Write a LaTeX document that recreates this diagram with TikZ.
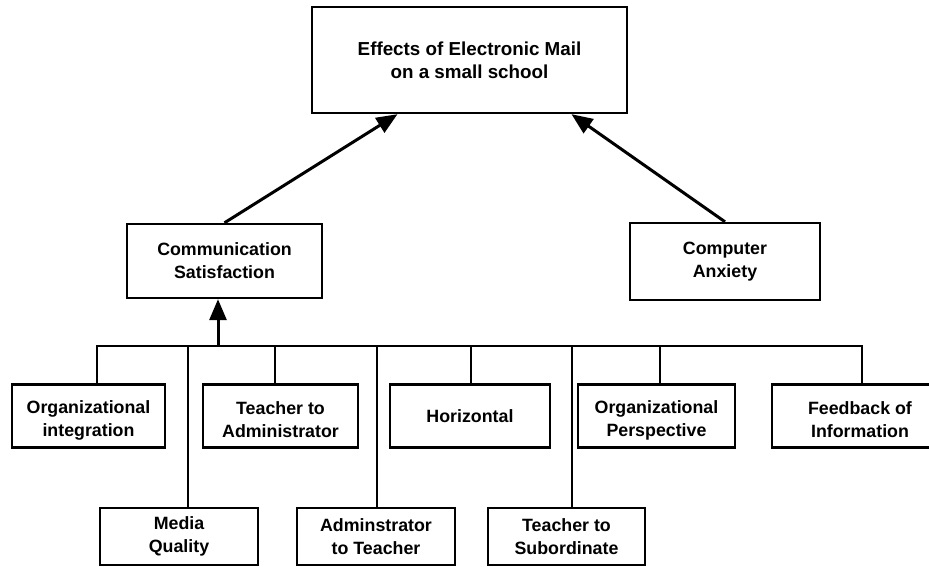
\documentclass[tikz,border=0pt]{standalone}
\usepackage{fontspec}
\setmainfont{Liberation Sans}
\usetikzlibrary{arrows.meta,positioning}
\newcommand{\lowr}{\rule{0pt}{21pt}}
\begin{document}
\begin{tikzpicture}[x=1pt,y=-1pt,
  box/.style={draw=black,line width=2.4pt,fill=white,align=center,inner sep=0pt,
    font=\fontsize{17.8}{23}\selectfont\bfseries},
  wire/.style={line width=2.3pt,draw=black},
  arr/.style={line width=3pt,draw=black,-{Triangle[length=21pt,width=17pt]}}]
\useasboundingbox (0,0) rectangle (929,567);
% nodes
\node[box,minimum width=315pt,minimum height=106pt,font=\fontsize{18.8}{23}\selectfont\bfseries] (top) at (469.5,60) {Effects of Electronic Mail\\on a small school};
\node[box,minimum width=195pt,minimum height=74pt] (comm) at (224.5,261) {Communication\\Satisfaction};
\node[box,minimum width=190pt,minimum height=77pt] (anx) at (725,261.5) {Computer\\Anxiety};
% top row
\node[box,minimum width=153pt,minimum height=63pt] (orgint) at (88.5,416) {\lowr Organizational\\integration};
\node[box,minimum width=155pt,minimum height=63pt] (tadm) at (280.5,416) {\lowr Teacher to\\Administrator};
\node[box,minimum width=160pt,minimum height=63pt] (hor) at (470,416) {Horizontal};
\node[box,minimum width=157pt,minimum height=63pt] (orgp) at (656.5,416) {\lowr Organizational\\Perspective};
\node[box,minimum width=176pt,minimum height=63pt] (feed) at (860,416) {\lowr Feedback of\\Information};
% bottom row
\node[box,minimum width=158pt,minimum height=57pt] (media) at (179,536.5) {Media\\Quality};
\node[box,minimum width=158pt,minimum height=57pt] (adm) at (376,536.5) {Adminstrator\\to Teacher};
\node[box,minimum width=157pt,minimum height=57pt] (tsub) at (566.5,536.5) {Teacher to\\Subordinate};
% bus
\coordinate (busL) at (97,346);
\coordinate (busR) at (862,346);
\coordinate (busC) at (218,346);
\coordinate (d2) at (188,346);
\coordinate (d3) at (275,346);
\coordinate (d4) at (377,346);
\coordinate (d5) at (471,346);
\coordinate (d6) at (572,346);
\coordinate (d7) at (660,346);
\draw[wire] (orgint.north -| busL) -- (busL) -- (busR) -- (busR |- feed.north);
\draw[wire] (d2) -- (d2 |- media.north);
\draw[wire] (d3) -- (d3 |- tadm.north);
\draw[wire] (d4) -- (d4 |- adm.north);
\draw[wire] (d5) -- (d5 |- hor.north);
\draw[wire] (d6) -- (d6 |- tsub.north);
\draw[wire] (d7) -- (d7 |- orgp.north);
% arrows
\draw[arr] (busC) -- (busC |- comm.south);
\draw[arr] (comm.north) -- ([xshift=-72pt]top.south);
\draw[arr] (anx.north) -- ([xshift=102pt]top.south);
\end{tikzpicture}
\end{document}
